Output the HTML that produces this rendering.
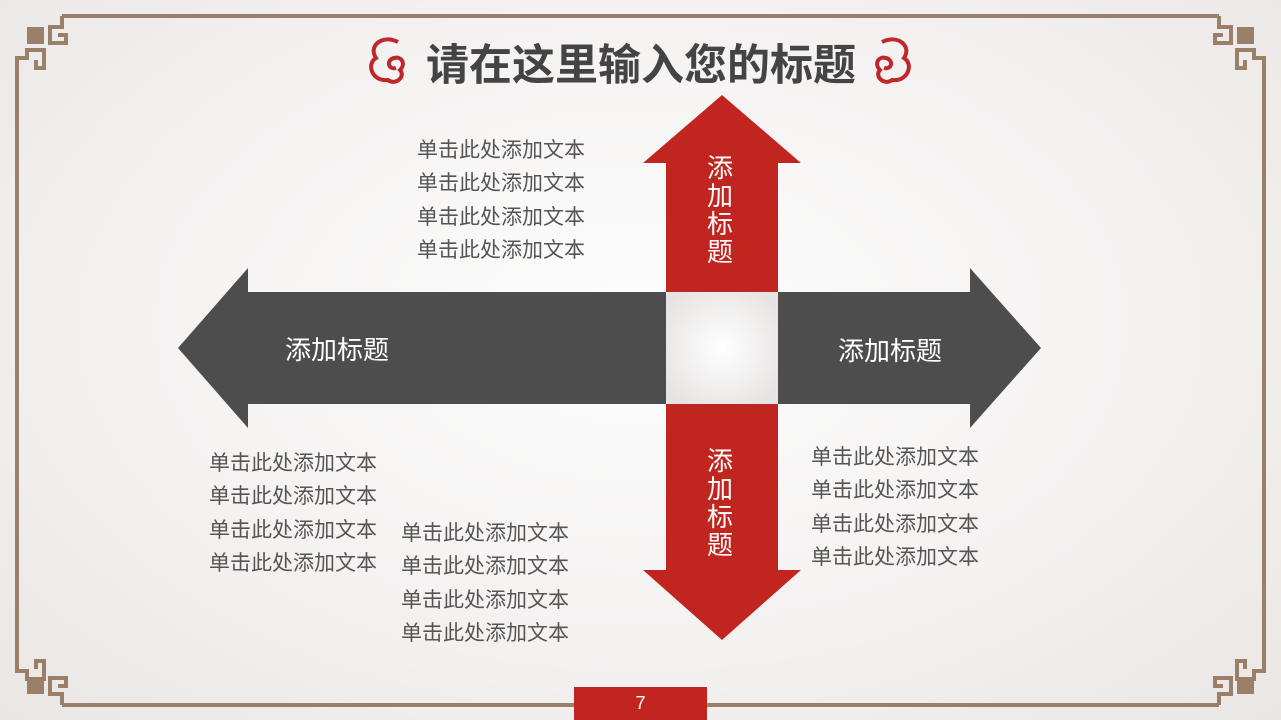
<!DOCTYPE html>
<html><head><meta charset="utf-8"><style>
body{margin:0;width:1281px;height:720px;overflow:hidden;background:radial-gradient(ellipse at 50% 45%,#fdfdfd 0%,#f3f1f0 60%,#e9e6e4 100%);font-family:"Liberation Sans","Noto Sans CJK SC",sans-serif;position:relative}
.t{position:absolute;font-size:21px;color:#555;line-height:33.3px;white-space:nowrap}
.w{position:absolute;color:#fff;font-size:26px}
</style></head><body>
<svg width="1281" height="720" style="position:absolute;left:0;top:0">
<g fill="none" stroke="#9a8068" stroke-width="4">
<path d="M17,662 V58 H27 V50 H44 V68 H36 V60"/>
<path d="M1264,662 V58 H1254 V50 H1237 V68 H1245 V60"/>
<path d="M62,16 H1219"/>
<path d="M62,16 V27 H50 V43 H66 V35 H58"/>
<path d="M1219,16 V27 H1231 V43 H1215 V35 H1223"/>
<path d="M17,662 V671 H27 V679 H44 V661 H36 V669"/>
<path d="M1264,662 V671 H1254 V679 H1237 V661 H1245 V669"/>
<path d="M62,705 H1219"/>
<path d="M62,705 V694 H50 V678 H66 V686 H58"/>
<path d="M1219,705 V694 H1231 V678 H1215 V686 H1223"/>
</g>
<g fill="#9a8068"><rect x="27" y="27" width="17" height="17"/><rect x="1237" y="27" width="17" height="17"/><rect x="27" y="677" width="17" height="17"/><rect x="1237" y="677" width="17" height="17"/></g>
<g fill="none" stroke="#c0272d" stroke-width="4">
<path d="M398,42 C382,34 368,46 376,58 C366,64 372,82 388,80 C396,86 406,76 400,70 C406,64 402,56 394,58 C386,60 388,70 396,68"/>
<path d="M882,42 C898,34 912,46 904,58 C914,64 908,82 892,80 C884,86 874,76 880,70 C874,64 878,56 886,58 C894,60 892,70 884,68"/>
</g>
<defs><radialGradient id="g" cx="50%" cy="50%" r="60%"><stop offset="0" stop-color="#fff"/><stop offset="1" stop-color="#e6e4e3"/></radialGradient></defs>
<rect x="666" y="292" width="112" height="112" fill="url(#g)"/>
<path fill="#c0261f" d="M666,292 V163 H643 L722,95 L801,163 H778 V292 Z"/>
<path fill="#c0261f" d="M666,404 V570 H643 L722,640 L801,570 H778 V404 Z"/>
<path fill="#4d4d4d" d="M666,292 H248 V268 L178,348 L248,428 V404 H666 Z"/>
<path fill="#4d4d4d" d="M778,292 H970 V268 L1041,348 L970,428 V404 H778 Z"/>
<rect x="574" y="687" width="133" height="33" fill="#c0261f"/>
</svg>
<div style="position:absolute;left:426px;top:31px;font-size:43px;font-weight:bold;color:#444;white-space:nowrap">请在这里输入您的标题</div>
<div class="w" style="left:707px;top:154px;width:28px;line-height:28px">添加标题</div>
<div class="w" style="left:707px;top:447px;width:28px;line-height:28px">添加标题</div>
<div class="w" style="left:285px;top:330px">添加标题</div>
<div class="w" style="left:838px;top:331px">添加标题</div>
<div class="t" style="left:417px;top:134px">单击此处添加文本<br>单击此处添加文本<br>单击此处添加文本<br>单击此处添加文本</div>
<div class="t" style="left:209px;top:447px">单击此处添加文本<br>单击此处添加文本<br>单击此处添加文本<br>单击此处添加文本</div>
<div class="t" style="left:401px;top:517px">单击此处添加文本<br>单击此处添加文本<br>单击此处添加文本<br>单击此处添加文本</div>
<div class="t" style="left:811px;top:441px">单击此处添加文本<br>单击此处添加文本<br>单击此处添加文本<br>单击此处添加文本</div>
<div style="position:absolute;left:574px;top:693px;width:133px;text-align:center;color:#fff;font-size:18px">7</div>
</body></html>
